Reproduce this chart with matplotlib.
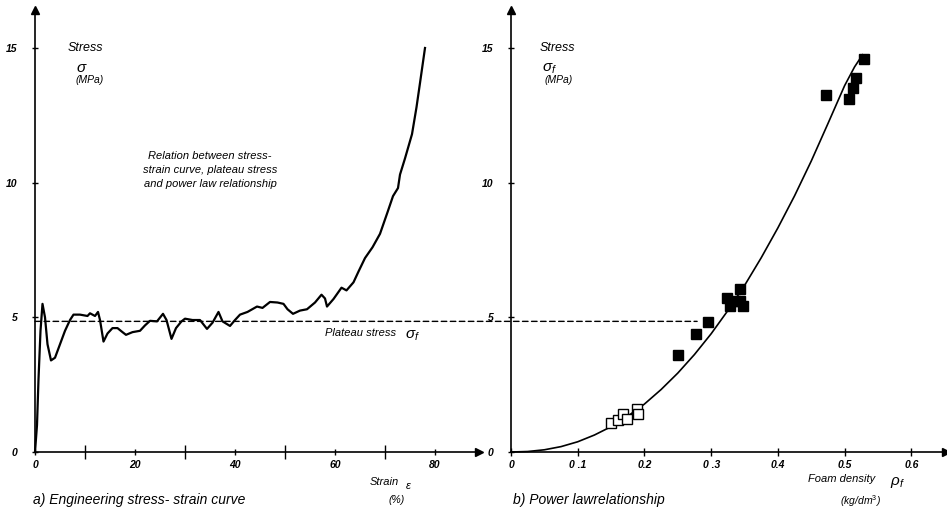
import matplotlib
matplotlib.use('Agg')
import matplotlib.pyplot as plt
from matplotlib.patches import ConnectionPatch
from matplotlib.ticker import FixedLocator, FixedFormatter

plt.rcParams['font.family'] = ['Liberation Sans', 'DejaVu Sans']
plt.rcParams['mathtext.fontset'] = 'custom'
plt.rcParams['mathtext.it'] = 'Liberation Sans:italic'
plt.rcParams['mathtext.rm'] = 'Liberation Sans'

# ---------------- data ----------------
strain = [0, 0.4, 0.7, 1.1, 1.5, 2.0, 2.5, 3.2, 4.0, 5.0, 6.0, 7.0, 7.7, 9.0, 10.5, 11.0,
          12.0, 12.6, 13.0, 13.7, 14.5, 15.5, 16.5, 17.5, 18.2, 19.5, 21, 22, 23, 24.4,
          25.6, 26.3, 27.3, 28.2, 29.3, 30, 31.5, 33, 34.4, 35.5, 36.7, 37.5, 39, 40, 41,
          42.5, 44.4, 45.5, 47, 48.5, 49.7, 50.5, 51.6, 53, 54.4, 56, 57.3, 58.0, 58.4,
          59.7, 61.3, 62.3, 63.7, 64.7, 66, 67.5, 69, 70.5, 71.6, 72.6, 73, 74, 75.4,
          76.3, 77, 78]
stress = [0, 1.0, 2.7, 4.5, 5.5, 5.0, 4.0, 3.4, 3.5, 4.0, 4.5, 4.9, 5.1, 5.1, 5.05, 5.15,
          5.05, 5.2, 4.9, 4.1, 4.4, 4.6, 4.6, 4.45, 4.35, 4.45, 4.5, 4.7, 4.87, 4.85,
          5.13, 4.9, 4.2, 4.6, 4.85, 4.95, 4.9, 4.9, 4.57, 4.8, 5.2, 4.85, 4.68, 4.9, 5.1,
          5.2, 5.4, 5.35, 5.57, 5.55, 5.5, 5.3, 5.13, 5.25, 5.3, 5.55, 5.84, 5.7, 5.4,
          5.68, 6.1, 6.0, 6.3, 6.7, 7.2, 7.6, 8.1, 8.9, 9.5, 9.8, 10.3, 10.9, 11.8,
          12.8, 13.7, 15.0]

plateau_stress = 4.85
plateau_end_density = 0.279

filled_density = [0.250, 0.277, 0.295, 0.324, 0.328, 0.336, 0.343, 0.348, 0.343,
                  0.472, 0.507, 0.513, 0.517, 0.529]
filled_stress = [3.6, 4.39, 4.83, 5.72, 5.43, 5.6, 5.6, 5.43, 6.06,
                 13.27, 13.1, 13.5, 13.9, 14.6]
open_density = [0.150, 0.161, 0.168, 0.174, 0.189, 0.190]
open_stress = [1.08, 1.19, 1.41, 1.23, 1.6, 1.41]

fit_density = [0, 0.025, 0.05, 0.075, 0.1, 0.125, 0.15, 0.175, 0.2, 0.225, 0.25, 0.275,
               0.3, 0.325, 0.35, 0.375, 0.4, 0.425, 0.45, 0.475, 0.5, 0.515, 0.527]
fit_stress = [0, 0.018, 0.082, 0.20, 0.38, 0.63, 0.94, 1.33, 1.78, 2.32, 2.93, 3.62,
              4.39, 5.25, 6.18, 7.21, 8.32, 9.51, 10.80, 12.19, 13.6, 14.3, 14.75]

left_xticks = [0, 20, 40, 60, 80]
left_xminor = [10, 30, 50, 70]
y_ticks = [0, 5, 10, 15]
right_xticks = [0, 0.1, 0.2, 0.3, 0.4, 0.5, 0.6]
right_xlabels = ['0', '0 .1', '0.2', '0 .3', '0.4', '0.5', '0.6']

# ---------------- layout ----------------
W, H = 947, 516
fig = plt.figure(figsize=(W / 100, H / 100), dpi=100)


def rect(l, r, b, t):
    return [l / W, (H - b) / H, (r - l) / W, (b - t) / H]


def ftext(x, y, s, **kw):
    kw.setdefault('style', 'italic')
    kw.setdefault('va', 'center')
    fig.text(x / W, 1 - y / H, s, **kw)


axL = fig.add_axes(rect(35, 479, 452, 10))
axR = fig.add_axes(rect(511, 946, 452, 10))
axL.set_xlim(0, 88.8)
axR.set_xlim(0, 0.652)
for ax in (axL, axR):
    ax.set_ylim(0, 16.41)
    ax.patch.set_alpha(0)
    for s in ('top', 'right'):
        ax.spines[s].set_visible(False)
    for s in ('left', 'bottom'):
        ax.spines[s].set_linewidth(1.2)
    ax.plot(1, 0, '>k', transform=ax.get_yaxis_transform(), clip_on=False, ms=6)
    ax.plot(0, 1, '^k', transform=ax.get_xaxis_transform(), clip_on=False, ms=6)
    ax.yaxis.set_major_locator(FixedLocator(y_ticks))
    ax.set_yticklabels([str(v) for v in y_ticks])
    ax.tick_params(axis='y', direction='inout', length=5, width=1, pad=10,
                   labelsize=7.5)
    for lbl in ax.get_yticklabels():
        lbl.set_fontstyle('italic')
        lbl.set_fontweight('bold')

# left axis ticks
axL.xaxis.set_major_locator(FixedLocator(left_xticks))
axL.xaxis.set_minor_locator(FixedLocator(left_xminor))
axL.set_xticklabels([str(v) for v in left_xticks])
axL.tick_params(axis='x', which='major', direction='inout', length=5, width=1,
                pad=3, labelsize=7.5)
axL.tick_params(axis='x', which='minor', direction='inout', length=10, width=1)
# right axis ticks
axR.xaxis.set_major_locator(FixedLocator(right_xticks))
axR.xaxis.set_major_formatter(FixedFormatter(right_xlabels))
axR.tick_params(axis='x', which='major', direction='inout', length=6, width=1,
                pad=3, labelsize=7.5)
for ax in (axL, axR):
    for lbl in ax.get_xticklabels():
        lbl.set_fontstyle('italic')
        lbl.set_fontweight('bold')

# ---------------- marks ----------------
axL.plot(strain, stress, color='black', lw=1.6, clip_on=False, zorder=3)

axR.plot(fit_density, fit_stress, color='black', lw=1.2, clip_on=False, zorder=2)
axR.plot(filled_density, filled_stress, 's', color='black', ms=7.5, zorder=3)
axR.plot(open_density, open_stress, 's', mfc='white', mec='black', mew=1.0,
         ms=7.5, zorder=3)

con = ConnectionPatch(xyA=(0, plateau_stress), coordsA=axL.transData,
                      xyB=(plateau_end_density, plateau_stress), coordsB=axR.transData,
                      color='black', lw=1.0, linestyle=(0, (4, 2.5)))
fig.add_artist(con)

# ---------------- texts ----------------
ftext(68, 48, 'Stress', ha='left', size=9)
ftext(82, 68, r'$\sigma$', ha='center', size=11)
ftext(90, 80, '(MPa)', ha='center', size=7.5)

ftext(540, 48, 'Stress', ha='left', size=9)
ftext(550, 69, r'$\sigma_f$', ha='center', size=11)
ftext(559, 80, '(MPa)', ha='center', size=7.5)

ftext(210, 170, 'Relation between stress-\nstrain curve, plateau stress\nand power law relationship',
      ha='center', size=8, linespacing=1.55)

ftext(325, 333, 'Plateau stress', ha='left', size=8)
ftext(405, 336, r'$\sigma_f$', ha='left', size=11)

ftext(370, 482, 'Strain', ha='left', size=8)
ftext(405, 486, r'$\varepsilon$', ha='left', size=8)
ftext(397, 500, '(%)', ha='center', size=7.5)
ftext(33, 500, 'a) Engineering stress- strain curve', ha='left', size=10)

ftext(513, 500, 'b) Power lawrelationship', ha='left', size=10)
ftext(808, 479, 'Foam density', ha='left', size=8)
ftext(890, 482, r'$\rho_f$', ha='left', size=11)
ftext(860, 501, '(kg/dm$^3$)', ha='center', size=7.5)

fig.savefig('out.png', dpi=100)
